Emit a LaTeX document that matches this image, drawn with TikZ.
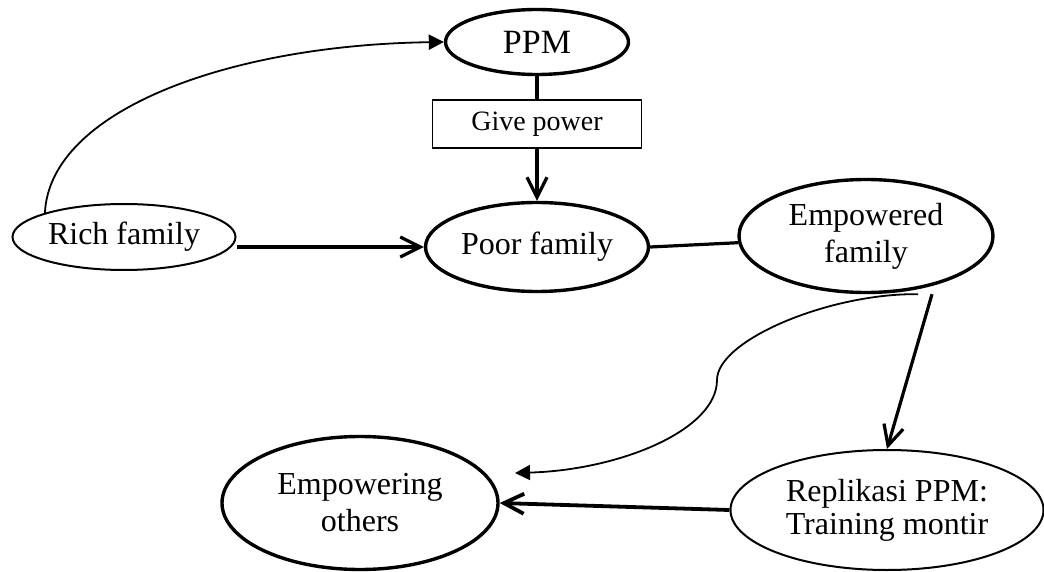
\documentclass[tikz,border=0pt]{standalone}
\usepackage{fontspec}
\setmainfont{Liberation Serif}
\usetikzlibrary{shapes, arrows.meta}
\tikzset{
    family/.style = {draw, ellipse, align=center, inner sep=0pt, font=\fontsize{16}{18.5}\selectfont},
    boldfamily/.style = {family, line width=1.7pt},
    thinfamily/.style = {family, line width=1pt},
    action/.style = {draw, rectangle, line width=0.65pt, minimum width=104.5pt, minimum height=24pt, font=\fontsize{14}{16}\selectfont},
    tip/.style = {line width=1.6pt, -{Straight Barb[length=10pt, width=10pt]}},
    flow/.style = {line width=0.9pt, -{Triangle[length=7.5pt, width=7.5pt]}}
}

\begin{document}
\begin{tikzpicture}[x=0.5pt, y=-0.5pt]
        \useasboundingbox (0,0) rectangle (1044,572);
        \node[boldfamily, minimum width=91.5pt, minimum height=32.5pt, font=\fontsize{17}{20}\selectfont] (ppm) at (537,42) {PPM};
        \node[action]                                                   (give)       at (537,124) {Give power};
        \node[thinfamily, minimum width=111.5pt, minimum height=33pt]   (rich)       at (124,237) {Rich family};
        \node[boldfamily, minimum width=111.5pt, minimum height=44.5pt] (poor)       at (537,247) {Poor family};
        \node[boldfamily, minimum width=127pt, minimum height=56.5pt]   (empowered)  at (866,236) {Empowered\\family};
        \node[boldfamily, minimum width=138pt, minimum height=66.5pt]   (empowering) at (360,503) {Empowering\\others};
        \node[thinfamily, minimum width=156.5pt, minimum height=60pt, font=\fontsize{16}{16.5}\selectfont] (replikasi) at (887,510) {Replikasi PPM:\\Training montir};
        % free ends
        \coordinate (start) at ([xshift=26pt]empowered.south);
        \coordinate (reach) at (515,473);
        % arrows
        \draw[flow] (rich.163) .. controls (50,110) and (230,45) .. (ppm.west);
        \draw[line width=1.6pt] (ppm.south) -- (give.north);
        \draw[tip]  (give.south) -- (poor.north);
        \draw[tip]  (rich.east |- poor.west) -- (poor.west);
        \draw[line width=1.6pt] (poor.east) -- (empowered.183);
        \draw[tip]  ([xshift=33pt]empowered.south) -- (replikasi.north);
        \draw[flow] (start) .. controls (830,293) and (717,340) .. (717,380) .. controls (717,430) and (620,470) .. (reach);
        \draw[tip, line width=1.9pt] (replikasi.west) -- (empowering.east);
    \end{tikzpicture}
\end{document}
